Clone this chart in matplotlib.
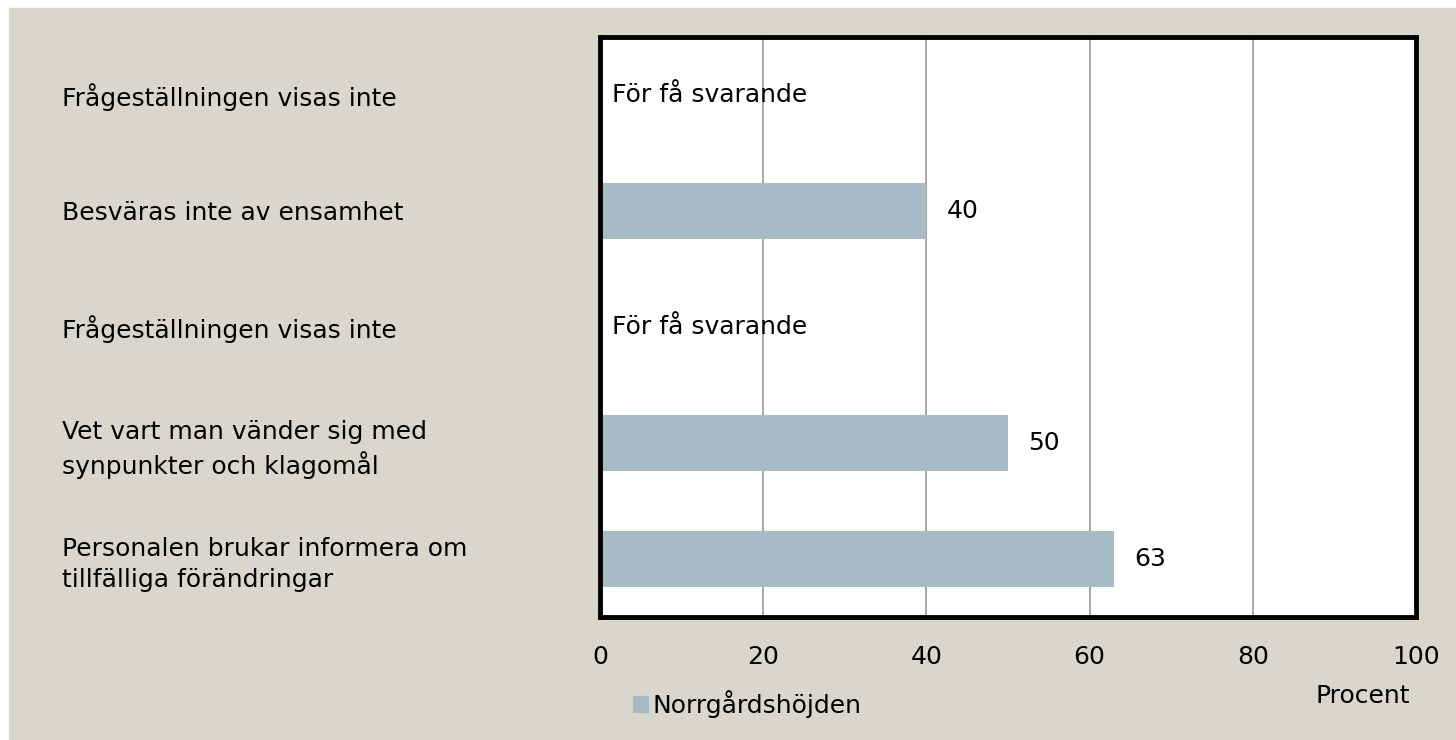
import numpy as np
import matplotlib.pyplot as plt
from matplotlib.patches import Patch

plt.rcParams['font.family'] = ['DejaVu Sans']

categories = ['Frågeställningen visas inte',
              'Besväras inte av ensamhet',
              'Frågeställningen visas inte',
              'Vet vart man vänder sig med\nsynpunkter och klagomål',
              'Personalen brukar informera om\ntillfälliga förändringar']
values = [None, 40, None, 50, 63]
series_name = 'Norrgårdshöjden'
missing_text = 'För få svarande'
xticks = [0, 20, 40, 60, 80, 100]

bg = '#d9d7cb'
bar_color = '#a7bbc6'
fs = 18

fig = plt.figure(figsize=(14.56, 7.4), dpi=100)
fig.patch.set_facecolor('white')
# beige panel, thin white strip on top and left
fig.patches.append(plt.Rectangle((9 / 1456, 0), 1, 1 - 8 / 740,
                                 transform=fig.transFigure, color=bg, zorder=-10))

ax = fig.add_axes([600 / 1456, 1 - 617 / 740, 816 / 1456, 580 / 740])
ax.set_facecolor('white')

y = np.arange(len(categories))
for i, v in enumerate(values):
    if v is None:
        ax.text(1.5, i, missing_text, va='center', ha='left', fontsize=fs)
    else:
        ax.barh(i, v, height=0.49, color=bar_color, zorder=2)
        ax.text(v + 2.5, i, str(v), va='center', ha='left', fontsize=fs)

ax.set_xlim(0, 100)
ax.set_ylim(len(categories) - 0.5, -0.5)
ax.set_xticks(xticks)
ax.set_xticklabels([str(t) for t in xticks], fontsize=fs)
ax.tick_params(axis='x', length=0, pad=20)
ax.set_yticks(y)
ax.set_yticklabels(categories, fontsize=fs, ha='left', linespacing=1.35)
ax.tick_params(axis='y', length=0, pad=387)
ax.grid(axis='x', color='#a0a0a0', linewidth=1.3, zorder=1)
ax.set_axisbelow(True)
for s in ax.spines.values():
    s.set_linewidth(3.5)
    s.set_color('black')

fig.text(1410 / 1456, 1 - 696 / 740, 'Procent', ha='right', va='center', fontsize=fs)

handles = [Patch(color=bar_color, label=series_name)]
fig.legend(handles=handles, loc='center left', bbox_to_anchor=(610 / 1456, 1 - 704 / 740),
           frameon=False, fontsize=fs, handlelength=0.6, handleheight=0.6,
           handletextpad=0.2)

fig.savefig('out.png', dpi=100, facecolor=fig.get_facecolor())
